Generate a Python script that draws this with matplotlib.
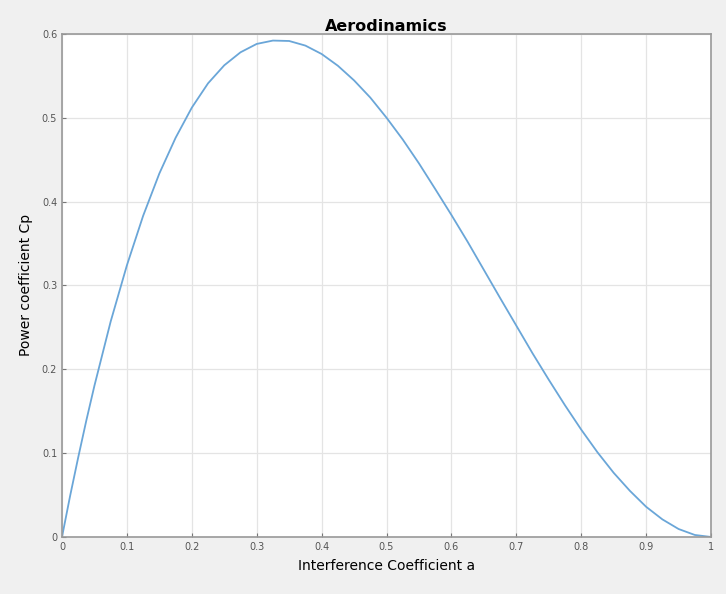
import numpy as np
import matplotlib.pyplot as plt

# interference coefficient a and power coefficient Cp
a = [0.0, 0.0125, 0.025, 0.0375, 0.05, 0.075, 0.1, 0.125, 0.15, 0.175, 0.2, 0.225, 0.25,
     0.275, 0.3, 0.325, 0.35, 0.375, 0.4, 0.425, 0.45, 0.475, 0.5,
     0.525, 0.55, 0.575, 0.6, 0.625, 0.65, 0.675, 0.7, 0.725, 0.75,
     0.775, 0.8, 0.825, 0.85, 0.875, 0.9, 0.925, 0.95, 0.975, 1.0]
cp = [0.0, 0.049, 0.095, 0.139, 0.1805, 0.257, 0.324, 0.383, 0.4335, 0.476, 0.512, 0.541, 0.5625,
      0.578, 0.588, 0.592, 0.5915, 0.586, 0.576, 0.562, 0.5445, 0.524, 0.5,
      0.474, 0.4455, 0.415, 0.384, 0.352, 0.3185, 0.285, 0.252, 0.219, 0.1875,
      0.157, 0.128, 0.101, 0.0765, 0.055, 0.036, 0.021, 0.0095, 0.0024, 0.0]

xticks = np.arange(0, 1.01, 0.1)
yticks = np.arange(0, 0.61, 0.1)

fig = plt.figure(figsize=(7.26, 5.94), dpi=100, facecolor='#f0f0f0')
ax = fig.add_axes([0.0854, 0.096, 0.894, 0.847])
ax.set_facecolor('white')

ax.plot(a, cp, color='#6aa6d8', lw=1.3, solid_joinstyle='round')

ax.set_xlim(0, 1)
ax.set_ylim(0, 0.6)
ax.set_xticks(xticks)
ax.set_yticks(yticks)
ax.set_xticklabels(['0', '0.1', '0.2', '0.3', '0.4', '0.5', '0.6', '0.7', '0.8', '0.9', '1'])
ax.set_yticklabels(['0', '0.1', '0.2', '0.3', '0.4', '0.5', '0.6'])
ax.tick_params(direction='in', length=3, colors='#777777', labelsize=7, labelcolor='#555555')
ax.grid(True, color='#e4e4e4', lw=0.9)
for s in ax.spines.values():
    s.set_color('#999999')
    s.set_linewidth(1.2)

ax.set_title('Aerodinamics', fontsize=11.5, fontweight='bold', pad=2)
ax.set_xlabel('Interference Coefficient a', fontsize=10, labelpad=5)
ax.set_ylabel('Power coefficient Cp', fontsize=10, labelpad=6)

fig.savefig('out.png', dpi=100, facecolor=fig.get_facecolor())
